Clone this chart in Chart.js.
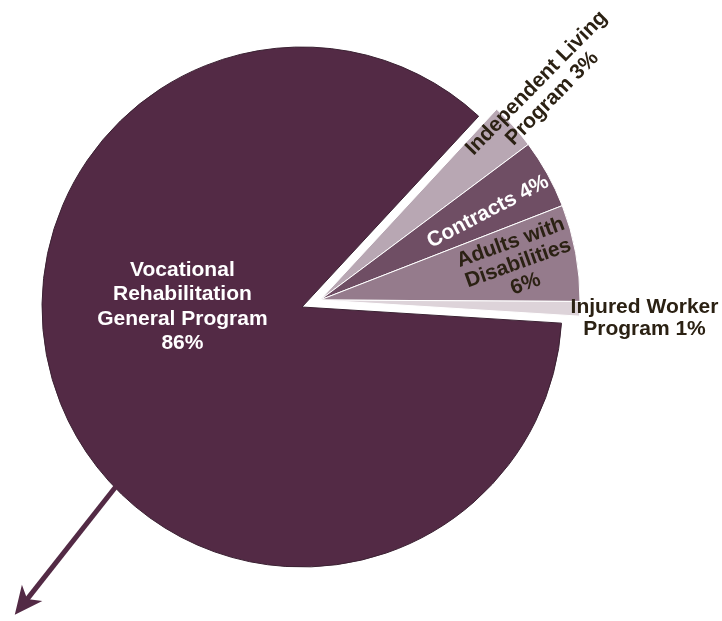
<!DOCTYPE html>
<html><head><meta charset="utf-8">
<script src="https://cdn.jsdelivr.net/npm/chart.js@4"></script>
<style>
html,body{margin:0;padding:0;background:#fff;}
#wrap{position:relative;width:722px;height:621px;overflow:hidden;}
#wrap canvas{position:absolute;left:0;top:0;}
</style></head><body>
<div id="wrap"><canvas id="c1" width="722" height="621"></canvas><canvas id="c2" width="722" height="621"></canvas></div>
<script>
// ---- data ----
const categories = ['Independent Living Program', 'Contracts', 'Adults with Disabilities', 'Injured Worker Program', 'Vocational Rehabilitation General Program'];
const shares = [2.9, 4.3, 6.0, 0.9, 85.9];
const percentLabels = ['3%', '4%', '6%', '1%', '86%'];
const labelLines = [
  ['Independent Living', 'Program 3%'],
  ['Contracts 4%'],
  ['Adults with', 'Disabilities', '6%'],
  ['Injured Worker', 'Program 1%'],
  ['Vocational', 'Rehabilitation', 'General Program', '86%']
];
const smallGroup = [0, 1, 2, 3];
const bigGroup = [4];

// ---- style ----
const sliceColors = ['#b8a7b3', '#6f4e64', '#957b8c', '#ddd3d9', '#532a45'];
const labelStyle = [
  {f: 1.18, da: -1.0, rot: -45.6, color: '#2b2113', size: 21, lh: 22},
  {f: 0.73, da: 1.3, rot: -27.7, color: '#ffffff', size: 21, lh: 22},
  {f: 0.775, da: 0, rot: -19.7, color: '#2b2113', size: 21, lh: 22},
  {f: 1.25, da: 1.2, rot: 0, color: '#2b2113', size: 21, lh: 22},
  {f: 0.46, da: 22.0, rot: 0, color: '#ffffff', size: 21, lh: 24.5}
];
const FONT = '"Liberation Sans", Arial, Helvetica, sans-serif';

const labelPlugin = {
  id: 'sliceLabels',
  afterDatasetsDraw(chart, args, opts) {
    const ctx = chart.ctx;
    const meta = chart.getDatasetMeta(0);
    opts.indices.forEach(i => {
      const arc = meta.data[i];
      const st = labelStyle[i];
      const mid = (arc.startAngle + arc.endAngle) / 2 + st.da * Math.PI / 180;
      const r = arc.outerRadius * st.f;
      const x = arc.x + Math.cos(mid) * r;
      const y = arc.y + Math.sin(mid) * r;
      const lines = labelLines[i];
      ctx.save();
      ctx.translate(x, y);
      ctx.rotate(st.rot * Math.PI / 180);
      ctx.font = 'bold ' + st.size + 'px ' + FONT;
      ctx.fillStyle = st.color;
      ctx.textAlign = 'center';
      ctx.textBaseline = 'middle';
      const h = (lines.length - 1) * st.lh;
      lines.forEach((ln, k) => ctx.fillText(ln, 0, -h / 2 + k * st.lh));
      ctx.restore();
    });
  }
};

const arrowPlugin = {
  id: 'arrow',
  afterDatasetsDraw(chart) {
    const ctx = chart.ctx;
    const arc = chart.getDatasetMeta(0).data[4];
    const a = 136.1 * Math.PI / 180;
    const sx = arc.x + Math.cos(a) * (arc.outerRadius - 4);
    const sy = arc.y + Math.sin(a) * (arc.outerRadius - 4);
    const dx = -0.619, dy = 0.785, len = 166;
    const tx = sx + dx * len, ty = sy + dy * len;
    const hl = 28, hw = 13;
    const bx = tx - dx * hl, by = ty - dy * hl;
    const px = -dy, py = dx;
    ctx.save();
    ctx.strokeStyle = '#532a45';
    ctx.fillStyle = '#532a45';
    ctx.lineWidth = 5;
    ctx.beginPath();
    ctx.moveTo(sx, sy);
    ctx.lineTo(tx - dx * 14, ty - dy * 14);
    ctx.stroke();
    ctx.beginPath();
    ctx.moveTo(tx, ty);
    ctx.lineTo(bx + px * hw, by + py * hw);
    ctx.lineTo(tx - dx * (hl - 8), ty - dy * (hl - 8));
    ctx.lineTo(bx - px * hw, by - py * hw);
    ctx.closePath();
    ctx.fill();
    ctx.restore();
  }
};

function makeChart(id, group, pad, border, plugins, labelIdx) {
  const colors = sliceColors.map((c, i) => group.includes(i) ? c : 'rgba(0,0,0,0)');
  const bw = sliceColors.map((c, i) => group.includes(i) ? 1 : 0);
  return new Chart(document.getElementById(id), {
    type: 'pie',
    data: {
      labels: categories,
      datasets: [{
        data: shares,
        backgroundColor: colors,
        borderColor: border,
        borderWidth: bw,
        radius: 260
      }]
    },
    options: {
      responsive: false,
      animation: false,
      events: [],
      rotation: 42.8,
      layout: {padding: pad},
      plugins: {
        legend: {display: false},
        tooltip: {enabled: false},
        sliceLabels: {indices: labelIdx}
      }
    },
    plugins: plugins
  });
}

makeChart('c1', bigGroup, {left: 42, right: 160, top: 47, bottom: 54}, '#3b2233', [labelPlugin, arrowPlugin], bigGroup);
makeChart('c2', smallGroup, {left: 60, right: 142, top: 40, bottom: 61}, '#ffffff', [labelPlugin], smallGroup);
</script>
</body></html>
